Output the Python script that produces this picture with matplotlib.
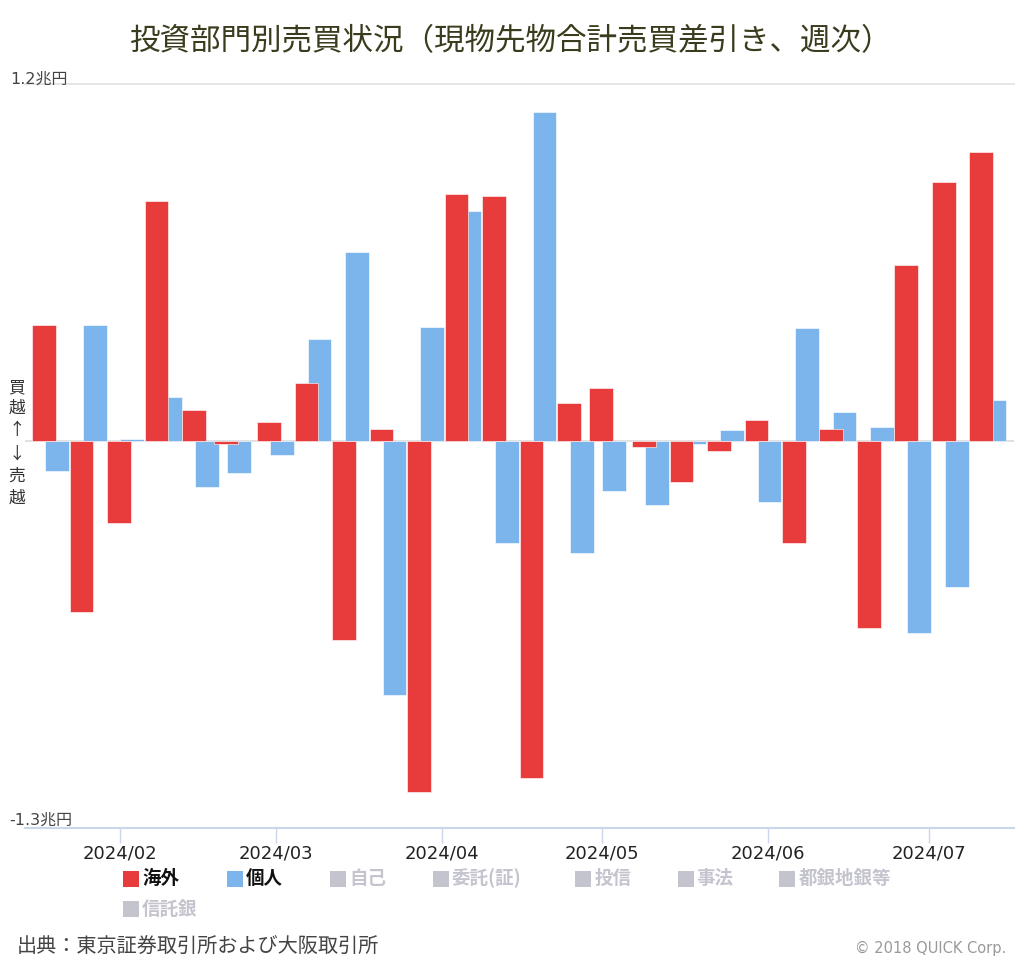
import matplotlib
matplotlib.use("Agg")
import matplotlib.pyplot as plt
import matplotlib.dates as mdates
from matplotlib.patches import Rectangle
import numpy as np
import datetime as dt

plt.rcParams['font.family'] = ['Noto Sans CJK JP', 'DejaVu Sans']

# ---- data (兆円, weekly net buy/sell, week-ending trading day) ----
weeks = ['2024-01-19', '2024-01-26', '2024-02-02', '2024-02-09', '2024-02-16',
         '2024-02-22', '2024-03-01', '2024-03-08', '2024-03-15', '2024-03-22',
         '2024-03-29', '2024-04-05', '2024-04-12', '2024-04-19', '2024-04-26',
         '2024-05-02', '2024-05-10', '2024-05-17', '2024-05-24', '2024-05-31',
         '2024-06-07', '2024-06-14', '2024-06-21', '2024-06-28', '2024-07-05',
         '2024-07-12']
foreign = [0.390, -0.573, -0.275, 0.809, 0.104, -0.011, 0.064, 0.195, -0.669, 0.040,
           -1.179, 0.832, 0.826, -1.134, 0.127, 0.178, -0.021, -0.136, -0.033, 0.071,
           -0.343, 0.040, -0.630, 0.592, 0.872, 0.971]
individual = [-0.102, 0.390, 0.007, 0.150, -0.154, -0.107, -0.045, 0.345, 0.637, -0.853,
              0.384, 0.774, -0.343, 1.107, -0.377, -0.169, -0.216, -0.010, 0.036, -0.204,
              0.380, 0.099, 0.046, -0.646, -0.492, 0.138]
legend_active = ['海外', '個人']
legend_inactive = ['自己', '委託(証)', '投信', '事法', '都銀地銀等', '信託銀']
title = '投資部門別売買状況（現物先物合計売買差引き、週次）'
source = '出典：東京証券取引所および大阪取引所'
y_top, y_bottom = 1.2, -1.3

RED = '#e73b3c'
BLUE = '#7cb5ec'
GRAY_LEG = '#c4c4ce'

W, H = 1024, 964
fig = plt.figure(figsize=(W / 100, H / 100), dpi=100)

def fx(x):
    return x / W

def fy(y):
    return 1 - y / H

ax_l, ax_r, ax_t, ax_b = 25, 1014, 84.3, 827.7
ax = fig.add_axes([fx(ax_l), fy(ax_b), (ax_r - ax_l) / W, (ax_b - ax_t) / H])

x = mdates.date2num([dt.datetime.strptime(d, '%Y-%m-%d') for d in weeks])
off = 1.22
bw = 4.42
ax.bar(x + off, individual, width=bw, color=BLUE, edgecolor=(1, 1, 1, 0.6),
       linewidth=0.7, zorder=2)
ax.bar(x - off, foreign, width=bw, color=RED, edgecolor=(1, 1, 1, 0.6),
       linewidth=0.7, zorder=3)

feb1 = mdates.date2num(dt.datetime(2024, 2, 1))
ax.set_xlim(feb1 - 17.8, feb1 + 166.9)
ax.set_ylim(y_bottom, y_top)

ax.axhline(y_top, color='#e6e6e6', lw=1.4, zorder=1, clip_on=False)
ax.axhline(0, color='#dcdcdc', lw=1.2, zorder=1)

for s in ['top', 'right', 'left']:
    ax.spines[s].set_visible(False)
ax.spines['bottom'].set_color('#ccd6eb')
ax.spines['bottom'].set_linewidth(1.5)

ax.set_yticks([])
ax.xaxis.set_major_locator(mdates.MonthLocator(bymonthday=1))
ax.xaxis.set_major_formatter(mdates.DateFormatter('%Y/%m'))
ax.tick_params(axis='x', length=10.5, width=1, color='#ccd6eb', pad=1.5,
               labelsize=13, labelcolor='#222222')
for lab in ax.get_xticklabels():
    lab.set_fontfamily('DejaVu Sans')

# y-axis end labels
fig.text(fx(10), fy(79), '1.2兆円', fontsize=11.5, color='#444444',
         family=['DejaVu Sans', 'Noto Sans CJK JP'], ha='left', va='center')
fig.text(fx(9), fy(820), '-1.3兆円', fontsize=11.5, color='#444444',
         family=['DejaVu Sans', 'Noto Sans CJK JP'], ha='left', va='center')

# vertical y-axis title
for ch, yy in zip(['買', '越', '↑', '↓', '売', '越'], [388, 408, 430.5, 454, 476, 498]):
    fig.text(fx(16.5), fy(yy), ch, fontsize=12, color='#333333', ha='center', va='center')

# title
fig.text(fx(510), fy(42), title, fontsize=22, color='#3b3b1e', ha='center', va='center')

# legend
leg_items = [(legend_active[0], RED, '#111111', 123, 878.7),
             (legend_active[1], BLUE, '#111111', 226.7, 878.7),
             (legend_inactive[0], GRAY_LEG, GRAY_LEG, 330, 878.7),
             (legend_inactive[1], GRAY_LEG, GRAY_LEG, 432.7, 878.7),
             (legend_inactive[2], GRAY_LEG, GRAY_LEG, 575.3, 878.7),
             (legend_inactive[3], GRAY_LEG, GRAY_LEG, 677.7, 878.7),
             (legend_inactive[4], GRAY_LEG, GRAY_LEG, 779.3, 878.7),
             (legend_inactive[5], GRAY_LEG, GRAY_LEG, 123, 909.3)]
sq = 16
for label, sc, tc, lx, ly in leg_items:
    fig.patches.append(Rectangle((fx(lx), fy(ly + sq / 2)), sq / W, sq / H,
                                 transform=fig.transFigure, facecolor=sc,
                                 edgecolor='none', figure=fig))
    fig.text(fx(lx + sq + 3), fy(ly), label, fontsize=13.3, fontweight='bold',
             color=tc, ha='left', va='center')

# source and copyright
fig.text(fx(17), fy(946), source, fontsize=14.5, color='#444444', ha='left', va='center')
fig.text(fx(1006), fy(948), '© 2018 QUICK Corp.', fontsize=10.5, color='#999999',
         family='DejaVu Sans', ha='right', va='center')

fig.savefig('out.png', dpi=100, facecolor='white')
